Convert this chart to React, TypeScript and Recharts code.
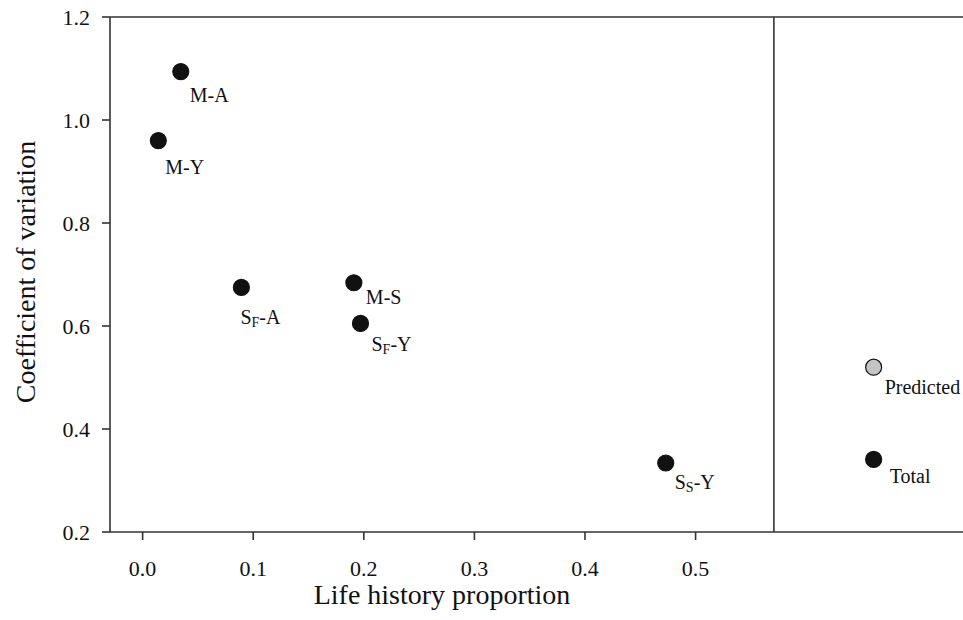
import React from "react";
import { ScatterChart, Scatter, XAxis, YAxis, ReferenceLine, Label } from "recharts";

// ---- data ----
const groupLabels = ["M-A", "M-Y", "S_F-A", "M-S", "S_F-Y", "S_S-Y"];
const lifeHistoryProportion = [0.0345, 0.0142, 0.0893, 0.191, 0.197, 0.473];
const coefficientOfVariation = [1.094, 0.96, 0.675, 0.684, 0.605, 0.334];

const summaryLabels = ["Predicted", "Total"];
const summaryX = [0.661, 0.661];
const summaryCV = [0.52, 0.341];

const xTicks = [0, 0.1, 0.2, 0.3, 0.4, 0.5];
const yTicks = [0.2, 0.4, 0.6, 0.8, 1.0, 1.2];
const panelDivider = 0.5708;

// ---- layout config (label offsets, px) ----
const labelOffsets: Record<string, [number, number]> = {
  "M-A": [9, 30],
  "M-Y": [7, 33],
  "S_F-A": [-1, 37],
  "M-S": [12, 21],
  "S_F-Y": [11, 28],
  "S_S-Y": [9, 26],
  Predicted: [11, 27],
  Total: [16, 24],
};

const FONT = "'Liberation Serif', 'Times New Roman', serif";

const groupData = groupLabels.map((label, i) => ({
  label,
  x: lifeHistoryProportion[i],
  y: coefficientOfVariation[i],
  kind: "group",
}));
const summaryData = summaryLabels.map((label, i) => ({
  label,
  x: summaryX[i],
  y: summaryCV[i],
  kind: label === "Predicted" ? "pred" : "total",
}));

function PointLabel({ x, y, label }: { x: number; y: number; label: string }) {
  const [dx, dy] = labelOffsets[label] || [10, 28];
  const m = label.match(/^(.*?)_(.)(.*)$/);
  if (m) {
    return (
      <text x={x + dx} y={y + dy} fontFamily={FONT} fontSize={20} fill="#111">
        <tspan>{m[1]}</tspan>
        <tspan fontSize={14} dy={3}>{m[2]}</tspan>
        <tspan dy={-3}>{m[3]}</tspan>
      </text>
    );
  }
  return (
    <text x={x + dx} y={y + dy} fontFamily={FONT} fontSize={20} fill="#111">
      {label}
    </text>
  );
}

function Dot(props: any) {
  const { cx, cy, payload } = props;
  if (cx == null || cy == null) return null;
  const fill = payload.kind === "pred" ? "#c4c4c4" : "#111";
  return (
    <g>
      <circle cx={cx} cy={cy} r={8} fill={fill} stroke="#111" strokeWidth={1.2} />
      <PointLabel x={cx} y={cy} label={payload.label} />
    </g>
  );
}

export default function App() {
  return (
    <div style={{ position: "absolute", left: 0, top: 0, background: "#fff" }}>
      <ScatterChart
        width={963}
        height={620}
        margin={{ top: 17, right: 0, bottom: 0, left: 0 }}
      >
        <XAxis
          type="number"
          dataKey="x"
          domain={[-0.0295, 0.7418]}
          ticks={xTicks}
          allowDataOverflow
          tickFormatter={(v: number) => v.toFixed(1)}
          height={88}
          tickSize={8}
          tickMargin={20}
          axisLine={{ stroke: "#333", strokeWidth: 1.6 }}
          tickLine={{ stroke: "#333", strokeWidth: 1.6 }}
          tick={{ fill: "#111", fontFamily: FONT, fontSize: 22 }}
        >
          <Label
            content={() => (
              <text
                x={442}
                y={604}
                textAnchor="middle"
                fontFamily={FONT}
                fontSize={28}
                fill="#111"
              >
                Life history proportion
              </text>
            )}
          />
        </XAxis>
        <YAxis
          type="number"
          dataKey="y"
          domain={[0.2, 1.2]}
          ticks={yTicks}
          allowDataOverflow
          tickFormatter={(v: number) => v.toFixed(1)}
          width={110}
          tickSize={8}
          tickMargin={12}
          axisLine={{ stroke: "#333", strokeWidth: 1.6 }}
          tickLine={{ stroke: "#333", strokeWidth: 1.6 }}
          tick={{ fill: "#111", fontFamily: FONT, fontSize: 22 }}
        >
          <Label
            content={() => (
              <text
                x={0}
                y={0}
                transform={`translate(35, 272) rotate(-90)`}
                textAnchor="middle"
                fontFamily={FONT}
                fontSize={28}
                fill="#111"
              >
                Coefficient of variation
              </text>
            )}
          />
        </YAxis>
        <ReferenceLine y={1.2} stroke="#333" strokeWidth={1.6} />
        <ReferenceLine x={panelDivider} stroke="#333" strokeWidth={1.6} />
        <Scatter data={groupData} shape={<Dot />} isAnimationActive={false} />
        <Scatter data={summaryData} shape={<Dot />} isAnimationActive={false} />
      </ScatterChart>
    </div>
  );
}
